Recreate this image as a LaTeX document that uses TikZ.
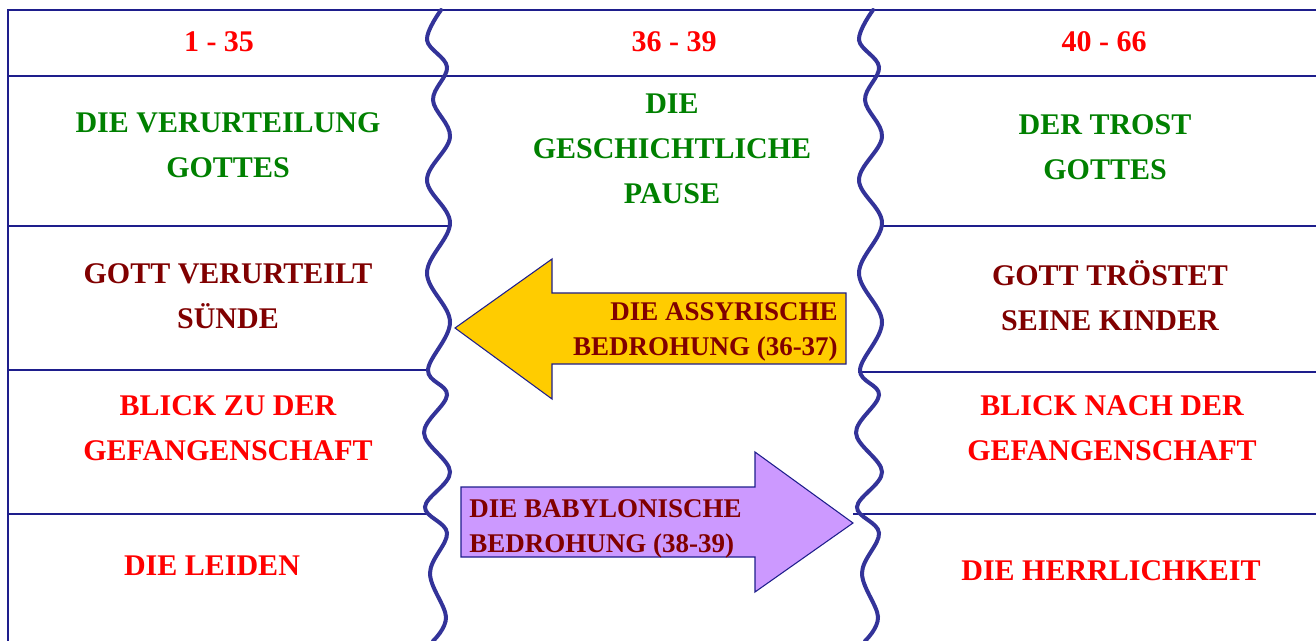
\documentclass[tikz,border=0pt]{standalone}
\usepackage{fontspec}
\setmainfont{Liberation Serif}
\definecolor{wavec}{RGB}{51,51,153}
\definecolor{linec}{RGB}{30,30,140}
\definecolor{tgreen}{RGB}{0,128,0}
\definecolor{tdred}{RGB}{128,0,0}
\definecolor{tred}{RGB}{255,0,0}
\definecolor{ayellow}{RGB}{255,204,0}
\definecolor{apurple}{RGB}{204,153,255}
\tikzset{
  big/.style={font=\fontsize{22.5}{33.75}\selectfont\bfseries, align=center, inner sep=0pt},
  small/.style={font=\fontsize{20.25}{26.25}\selectfont\bfseries, inner sep=0pt},
  rule/.style={draw=linec, line width=1.1pt},
  wavy/.style={draw=wavec, line width=3pt, line cap=round},
  arrowshape/.style={draw=linec, line width=0.8pt, line join=miter},
}
\begin{document}
\begin{tikzpicture}[x=0.75pt,y=-0.75pt]
\useasboundingbox (0,0) rectangle (1316,641);
% frame lines
\draw[rule] (1316,10) -- (8,10) -- (8,641);
\draw[rule] (8,76) -- (1316,76);
\draw[rule] (8,226) -- (450,226);
\draw[rule] (8,370) -- (428,370);
\draw[rule] (8,514) -- (427,514);
\draw[rule] (882,226) -- (1316,226);
\draw[rule] (858,372) -- (1316,372);
\draw[rule] (853,514) -- (1316,514);
% waves
\foreach \cx in {437, 869}{
\draw[wavy, shift={(\cx,0)}] plot[smooth, tension=0.6] coordinates {(4,10) (-10,40) (10,67) (-4,100) (13,137) (-10,180) (13,223) (-10,273) (13,322) (-9,370) (10,395) (-13,433) (13,472) (-12,507) (10,533) (-7,573) (9,617) (-4,641)};
}
% arrows
\draw[arrowshape, fill=ayellow] (846,293) -- (552,293) -- (552,259) -- (455,328) -- (552,399) -- (552,364) -- (846,364) -- cycle;
\draw[arrowshape, fill=apurple] (461,487) -- (755,487) -- (755,452) -- (853,523) -- (755,592) -- (755,557) -- (461,557) -- cycle;
% header
\node[big, text=tred] (h1) at (219,42) {1 - 35};
\node[big, text=tred] (h2) at (674,42) {36 - 39};
\node[big, text=tred] (h3) at (1104,42) {40 - 66};
% texts
\node[big, text=tgreen] (g1) at (228,145) {DIE VERURTEILUNG\\GOTTES};
\node[big, text=tgreen] (g2) at (672,149) {DIE\\GESCHICHTLICHE\\PAUSE};
\node[big, text=tgreen] (g3) at (1105,147) {DER TROST\\GOTTES};
\node[big, text=tdred] (r1) at (228,296.5) {GOTT VERURTEILT\\SÜNDE};
\node[big, text=tdred] (r2) at (1110,296) {GOTT TRÖSTET\\SEINE KINDER};
\node[big, text=tred] (b1) at (228,428.5) {BLICK ZU DER\\GEFANGENSCHAFT};
\node[big, text=tred] (b2) at (1112,428.5) {BLICK NACH DER\\GEFANGENSCHAFT};
\node[big, text=tred] (l1) at (212,566) {DIE LEIDEN};
\node[big, text=tred] (l2) at (1111,571) {DIE HERRLICHKEIT};
\node[small, text=tdred, align=right, anchor=east] (at) at (838,332) {DIE ASSYRISCHE\\BEDROHUNG (36-37)};
\node[small, text=tdred, align=left, anchor=west] (bt) at (469,529) {DIE BABYLONISCHE\\BEDROHUNG (38-39)};
\end{tikzpicture}
\end{document}
